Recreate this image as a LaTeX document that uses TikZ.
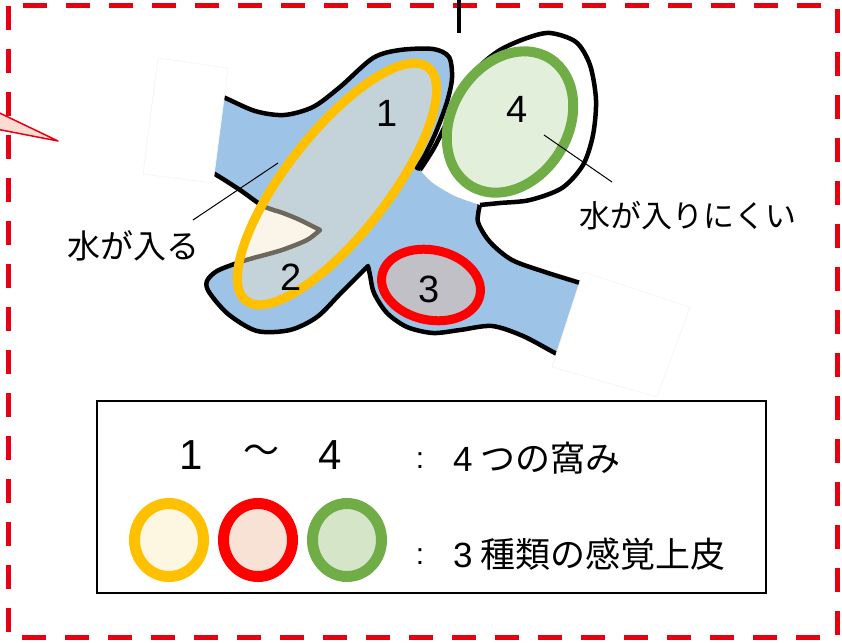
\documentclass[tikz,border=0pt]{standalone}
\usepackage{fontspec}
\setmainfont{Noto Sans CJK JP}
\newfontfamily\digitfont{Liberation Sans}
\usepackage{xcolor}
\usepackage{tikz}
\usetikzlibrary{positioning}

\definecolor{borderred}{HTML}{E60012}
\definecolor{bodyblue}{HTML}{9DC3E6}
\definecolor{ringyellow}{HTML}{FFC000}
\definecolor{ringred}{HTML}{FF0000}
\definecolor{ringgreen}{HTML}{70AD47}
\definecolor{overlaycream}{HTML}{F5E8CD}
\definecolor{pitgreen}{HTML}{E2EFDA}
\definecolor{pitgray}{HTML}{C0C0C6}
\definecolor{keyyellow}{HTML}{FDF7E1}
\definecolor{keyred}{HTML}{F8E2D5}
\definecolor{keygreen}{HTML}{D5E6C8}
\definecolor{tipfill}{HTML}{FADCD2}

\begin{document}
\begin{tikzpicture}[x=1pt,y=-1pt,
  border/.style={draw=borderred,line width=5pt,dash pattern=on 24pt off 19pt},
  outline/.style={draw=black,line width=4.5pt,line join=round},
  patch/.style={fill=white,draw=black!4,line width=0.8pt},
  leader/.style={draw=black,line width=1pt},
  num/.style={inner sep=0pt,font=\digitfont\fontsize{38}{40}\selectfont},
  keynum/.style={inner sep=0pt,font=\digitfont\fontsize{42}{44}\selectfont},
  lbl/.style={inner sep=0pt,font=\fontsize{31}{36}\selectfont},
  keytext/.style={inner sep=0pt,anchor=west,font=\fontsize{35}{40}\selectfont}]
\useasboundingbox (0,0) rectangle (842,642);
\clip (0,0) rectangle (842,642);

% frame and the pointer coming in from the left
\draw[border] (8,6) rectangle (837,637);
\filldraw[draw=borderred,fill=tipfill,line width=1.5pt,line join=round]
  (58,141) -- (-40,94) -- (-40,122) -- cycle;
\coordinate (feed) at (459,-5);
\coordinate (feedend) at (459,33);
\draw[line width=4.5pt] (feed) -- (feedend);

% skin surface
\filldraw[outline,fill=bodyblue]
  plot[smooth] coordinates {(185,82) (223,97) (255,111) (284,115) (313,107) (340,87)
    (373,58) (400,50) (433,49) (449,57) (452,78) (447,102) (436,132) (425,155) (417,168)}
  -- (465,178) -- (480,205)
  -- plot[smooth] coordinates {(480,205) (478,222) (490,242) (512,260) (545,272) (577,282) (612,293)}
  -- (600,360) -- (585,368)
  -- plot[smooth] coordinates {(585,368) (555,353) (523,336) (492,326) (460,330) (433,333)
    (407,327) (387,313) (374,293) (370,275) (368,266)}
  -- plot[smooth] coordinates {(368,266) (360,274) (340,294) (317,317) (290,330) (257,331)
    (228,314) (209,292) (207,281) (217,271) (240,262) (257,257)}
  -- plot[smooth] coordinates {(257,257) (282,250) (307,240) (320,230)}
  -- plot[smooth] coordinates {(320,230) (300,220) (283,213) (263,206) (240,190) (213,173) (180,156)}
  -- cycle;

% raised part around pit 4
\fill[white]
  plot[smooth] coordinates {(420,170) (434,148) (448,120) (462,92) (478,68) (500,50) (527,38)
    (550,33) (576,42) (590,65) (596,100) (593,135) (583,165) (562,188) (530,200) (500,203) (480,205)}
  -- plot[smooth] coordinates {(480,205) (455,196) (433,183) (420,170)} -- cycle;
\draw[outline]
  plot[smooth] coordinates {(420,170) (434,148) (448,120) (462,92) (478,68) (500,50) (527,38)
    (550,33) (576,42) (590,65) (596,100) (593,135) (583,165) (562,188) (530,200) (500,203) (480,205)};

% cut ends
\filldraw[patch] (158,58) -- (228,68) -- (213,183) -- (143,174) -- cycle;
\filldraw[patch] (583,272) -- (690,307) -- (657,397) -- (552,367) -- cycle;

% the pits
\draw[draw=ringgreen,fill=pitgreen,line width=10pt] (510,122) ellipse [x radius=75, y radius=58, rotate=58];
\draw[draw=ringyellow,fill=overlaycream,fill opacity=0.45,line width=9pt]
  (337,184) ellipse [x radius=148, y radius=51, rotate=52];
\draw[draw=ringred,fill=pitgray,line width=9pt] (431,285) ellipse [x radius=50, y radius=35, rotate=-12];

\node[num] (n1) at (387,113) {1};
\node[num] (n2) at (291,277) {2};
\node[num] (n3) at (429,289) {3};
\node[num] (n4) at (517,109) {4};

% labels
\node[lbl,font=\fontsize{33}{38}\selectfont] (wetin) at (133,246) {水が入る};
\node[lbl] (wetout) at (688,216) {水が入りにくい};
\coordinate (pinin) at (278,163);
\coordinate (leadin) at (193,220);
\coordinate (pinout) at (544,135);
\coordinate (leadout) at (612,182);
\draw[leader] (pinin) -- (leadin);
\draw[leader] (pinout) -- (leadout);

% key
\draw[line width=1.5pt] (97,401) rectangle (766,593);
\node[keynum] (k1) at (191,455) {1};
\node[inner sep=0pt,font=\fontsize{36}{40}\selectfont] (ktil) at (261,454) {～};
\node[keynum] (k4) at (330,455) {4};
\node[inner sep=0pt,font=\digitfont\fontsize{30}{34}\selectfont] (c1) at (420,461) {:};
\node[keytext] (pits) at (453,458) {{\digitfont 4} つの窩み};
\foreach \cx/\rc/\fc in {169/ringyellow/keyyellow,258/ringred/keyred,347/ringgreen/keygreen}
  \draw[draw=\rc,fill=\fc,line width=11pt] (\cx,540) ellipse [x radius=34.5, y radius=36.5];
\node[inner sep=0pt,font=\digitfont\fontsize{30}{34}\selectfont] (c2) at (420,557) {:};
\node[keytext] (kinds) at (453,554) {{\digitfont 3} 種類の感覚上皮};
\end{tikzpicture}
\end{document}
